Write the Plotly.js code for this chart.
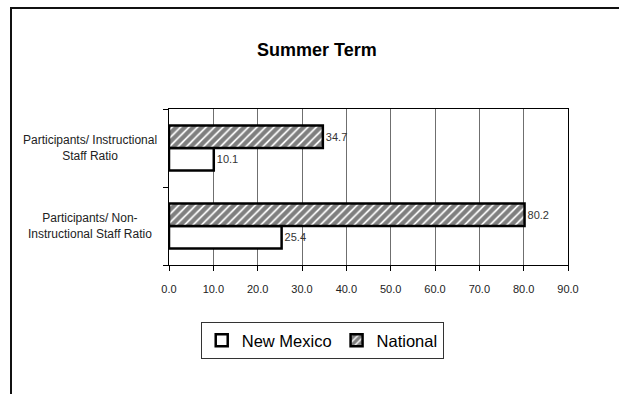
<!DOCTYPE html>
<html>
<head>
<meta charset="utf-8">
<script src="https://cdn.plot.ly/plotly-3.0.1.min.js"></script>
<style>
  html, body { margin: 0; padding: 0; background: #fff; }
  #wrap { position: relative; width: 619px; height: 394px; overflow: hidden; }
  #chart { position: absolute; left: 0; top: 0; width: 619px; height: 394px; }
  #frame { position: absolute; left: 10px; top: 7px; width: 700px; height: 500px;
           border-top: 2px solid #111; border-left: 2px solid #111; pointer-events: none; }
</style>
</head>
<body>
<div id="wrap">
  <div id="chart"></div>
  <div id="frame"></div>
</div>
<script>
// Categories listed bottom to top (Plotly category axis order)
const categories = [
  "Participants/ Non-Instructional Staff Ratio",
  "Participants/ Instructional Staff Ratio"
];
const categoryLabels = [
  "Participants/ Non-<br>Instructional Staff Ratio",
  "Participants/ Instructional<br>Staff Ratio"
];
const newMexico = [25.4, 10.1];
const national = [80.2, 34.7];
const xTicks = [0, 10, 20, 30, 40, 50, 60, 70, 80, 90];
const xTickLabels = ["0.0", "10.0", "20.0", "30.0", "40.0", "50.0", "60.0", "70.0", "80.0", "90.0"];

const FONT = "'Liberation Sans', Arial, sans-serif";

const traces = [
  {
    type: "bar", orientation: "h", name: "New Mexico",
    y: categories, x: newMexico,
    marker: { color: "#ffffff", line: { color: "#000000", width: 2.5 } },
    texttemplate: "%{x:.1f}", textposition: "outside", cliponaxis: false,
    textfont: { family: FONT, size: 11, color: "#333333" },
    hoverinfo: "skip"
  },
  {
    type: "bar", orientation: "h", name: "National",
    y: categories, x: national,
    marker: {
      color: "#ffffff",
      line: { color: "#000000", width: 2.5 },
      pattern: { shape: "/", fgcolor: "#000000", bgcolor: "#ffffff", size: 6, solidity: 0.7, fillmode: "overlay" }
    },
    texttemplate: "%{x:.1f}", textposition: "outside", cliponaxis: false,
    textfont: { family: FONT, size: 11, color: "#333333" },
    hoverinfo: "skip"
  }
];

const annotations = categories.map((c, i) => ({
  xref: "paper", yref: "y", x: -0.199, y: c,
  text: categoryLabels[i], showarrow: false,
  xanchor: "center", yanchor: "middle", align: "center",
  font: { family: FONT, size: 12, color: "#222222" }
}));

const layout = {
  width: 619, height: 394,
  paper_bgcolor: "#ffffff", plot_bgcolor: "#ffffff",
  margin: { l: 169, r: 51, t: 109, b: 129, pad: 0 },
  font: { family: FONT, color: "#222222" },
  title: {
    text: "<b>Summer Term</b>",
    font: { family: FONT, size: 18, color: "#000000" },
    x: 0.512, xref: "container", xanchor: "center",
    y: 0.873, yref: "container", yanchor: "middle"
  },
  barmode: "group", bargap: 0.42, bargroupgap: 0,
  xaxis: {
    range: [0, 90], tickvals: xTicks, ticktext: xTickLabels,
    showgrid: true, gridcolor: "#6f6f6f", gridwidth: 1,
    zeroline: false, showline: true, linecolor: "#000000", linewidth: 1, mirror: true,
    ticks: "outside", ticklen: 5, tickcolor: "#000000", ticklabelstandoff: 9,
    tickfont: { family: FONT, size: 11, color: "#222222" }
  },
  yaxis: {
    type: "category", categoryorder: "array", categoryarray: categories,
    showticklabels: false, showgrid: false, zeroline: false,
    showline: true, linecolor: "#000000", linewidth: 1, mirror: true,
    ticks: "outside", ticklen: 5, tickcolor: "#000000", tickson: "boundaries"
  },
  showlegend: true,
  legend: {
    orientation: "h", x: 0.384, xanchor: "center", y: -0.366, yanchor: "top",
    bordercolor: "#333333", borderwidth: 1, bgcolor: "#ffffff",
    font: { family: FONT, size: 16.5, color: "#000000" },
    traceorder: "normal", itemwidth: 30, tracegroupgap: 0
  },
  annotations: annotations
};

Plotly.newPlot("chart", traces, layout, { staticPlot: true, displayModeBar: false });
</script>
</body>
</html>
